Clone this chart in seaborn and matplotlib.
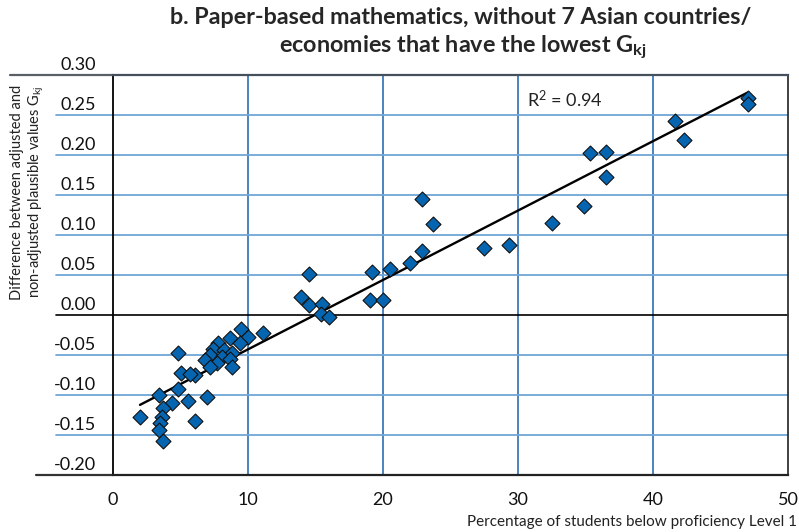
import numpy as np
import pandas as pd
import matplotlib
matplotlib.use("Agg")
import matplotlib.pyplot as plt
import matplotlib.transforms as mtransforms
import seaborn as sns

# Percentage of students below proficiency Level 1 (x) and the difference
# between adjusted and non-adjusted plausible values G_kj (y)
pct_below_level1 = [
    47.0, 47.0, 41.6, 42.3, 35.3, 36.5, 36.5, 34.9, 32.5, 29.3,
    27.5, 22.9, 23.7, 22.9, 22.0, 20.5, 19.2, 14.5, 19.0, 20.0,
    13.9, 14.5, 15.5, 15.4, 16.0,
    11.1, 9.5, 10.0, 8.7, 9.4, 7.8, 7.4, 8.2, 8.8, 7.2,
    8.05, 8.7, 6.8, 7.7, 8.8, 7.2, 6.1, 4.8, 5.0, 5.7,
    4.8, 3.4, 4.35, 5.55, 6.94, 3.7, 2.0, 3.6, 3.5, 6.1,
    3.4, 3.7,
]
gkj_difference = [
    0.271, 0.264, 0.242, 0.219, 0.203, 0.204, 0.172, 0.136, 0.115, 0.087,
    0.084, 0.145, 0.114, 0.080, 0.065, 0.058, 0.054, 0.051, 0.019, 0.019,
    0.022, 0.0125, 0.014, 0.001, -0.002,
    -0.023, -0.017, -0.027, -0.029, -0.035, -0.035, -0.042, -0.044, -0.047, -0.050,
    -0.052, -0.055, -0.056, -0.060, -0.065, -0.065, -0.075, -0.047, -0.073, -0.074,
    -0.092, -0.100, -0.110, -0.107, -0.103, -0.116, -0.127, -0.127, -0.135, -0.132,
    -0.144, -0.158,
]
x_ticks = [0, 10, 20, 30, 40, 50]
y_ticks = [0.30, 0.25, 0.20, 0.15, 0.10, 0.05, 0.00, -0.05, -0.10, -0.15, -0.20]
y_tick_labels = ["0.30", "0.25", "0.20", "0.15", "0.10", "0.05", "0.00",
                 "-0.05", "-0.10", "-0.15", "-0.20"]
r_squared_text = "R$^{2}$ = 0.94"

df = pd.DataFrame({"pct": pct_below_level1, "diff": gkj_difference})

sns.set_style("white")
plt.rcParams["font.family"] = ["Lato", "DejaVu Sans"]
plt.rcParams["mathtext.fontset"] = "custom"
plt.rcParams["mathtext.rm"] = "Lato"
plt.rcParams["mathtext.it"] = "Lato:italic"
plt.rcParams["mathtext.bf"] = "Lato:bold"

W, H = 799, 532
fig = plt.figure(figsize=(W / 100, H / 100), dpi=100)
ax = fig.add_axes([113 / W, 1 - 475 / H, 675 / W, 400 / H])

V_GRID = "#1a62ad"
H_GRID = "#6ea6d6"
POINT = "#0565b0"

sns.regplot(
    data=df, x="pct", y="diff", ax=ax, ci=None, truncate=True,
    marker="D",
    scatter_kws=dict(s=58, color=POINT, edgecolors="#111111", linewidths=0.8,
                     alpha=1, zorder=4),
    line_kws=dict(color="black", lw=1.7, zorder=3),
)

ax.set_xlim(0, 50)
ax.set_ylim(-0.20, 0.30)
ax.set_xticks(x_ticks)
ax.set_xticklabels([str(t) for t in x_ticks])
ax.set_yticks(y_ticks)
ax.set_yticklabels(y_tick_labels)
ax.set_xlabel("")
ax.set_ylabel("")
ax.tick_params(axis="both", length=0, labelsize=13, colors="#111111")
ax.tick_params(axis="x", pad=12)
ax.tick_params(axis="y", pad=12)

# tick labels sit just above their grid lines
lift = mtransforms.ScaledTranslation(0, 12 / 100, fig.dpi_scale_trans)
for lab in ax.get_yticklabels():
    lab.set_transform(lab.get_transform() + lift)

# vertical grid lines
for xv in x_ticks[1:-1]:
    ax.axvline(xv, color=V_GRID, lw=1.1, zorder=1)

# horizontal grid lines run out under the tick labels
blend = mtransforms.blended_transform_factory(ax.transAxes, ax.transData)
for yv in y_ticks:
    if yv in (0.30, -0.20):
        continue
    color, lw = (("black", 1.2) if abs(yv) < 1e-9 else (H_GRID, 1.3))
    ax.plot([-57 / 675, 1], [yv, yv], color=color, lw=lw, transform=blend,
            clip_on=False, zorder=1 if yv != 0 else 2)
ax.plot([-103 / 675, 0], [0.30, 0.30], color="#5a5f66", lw=1.6,
        transform=blend, clip_on=False)
ax.plot([-77 / 675, 0], [-0.20, -0.20], color="#333333", lw=1.6,
        transform=blend, clip_on=False)

for side, col, lw in [("left", "black", 1.3), ("bottom", "#222222", 1.6),
                      ("top", "#46505c", 1.6), ("right", "#333333", 1.3)]:
    ax.spines[side].set_visible(True)
    ax.spines[side].set_color(col)
    ax.spines[side].set_linewidth(lw)

ax.text(30.7, 0.269, r_squared_text, fontsize=13, color="#222222",
        va="center", ha="left")

fig.text(461 / W, 1 - 17 / H,
         "b. Paper-based mathematics, without 7 Asian countries/",
         fontsize=16.8, fontweight="bold", ha="center", va="center")
fig.text(463 / W, 1 - 47 / H,
         r"economies that have the lowest G$_{\mathbf{kj}}$",
         fontsize=16.8, fontweight="bold", ha="center", va="center")

fig.text(28 / W, 1 - 192 / H,
         "Difference between adjusted and\nnon-adjusted plausible values G$_{\\mathrm{kj}}$",
         rotation=90, fontsize=10.5, ha="center", va="center",
         multialignment="center", linespacing=1.2, color="#222222")

fig.text(797 / W, 1 - 522 / H,
         "Percentage of students below proficiency Level 1",
         fontsize=11, ha="right", va="center", color="#222222")

fig.savefig("out.png", dpi=100)
